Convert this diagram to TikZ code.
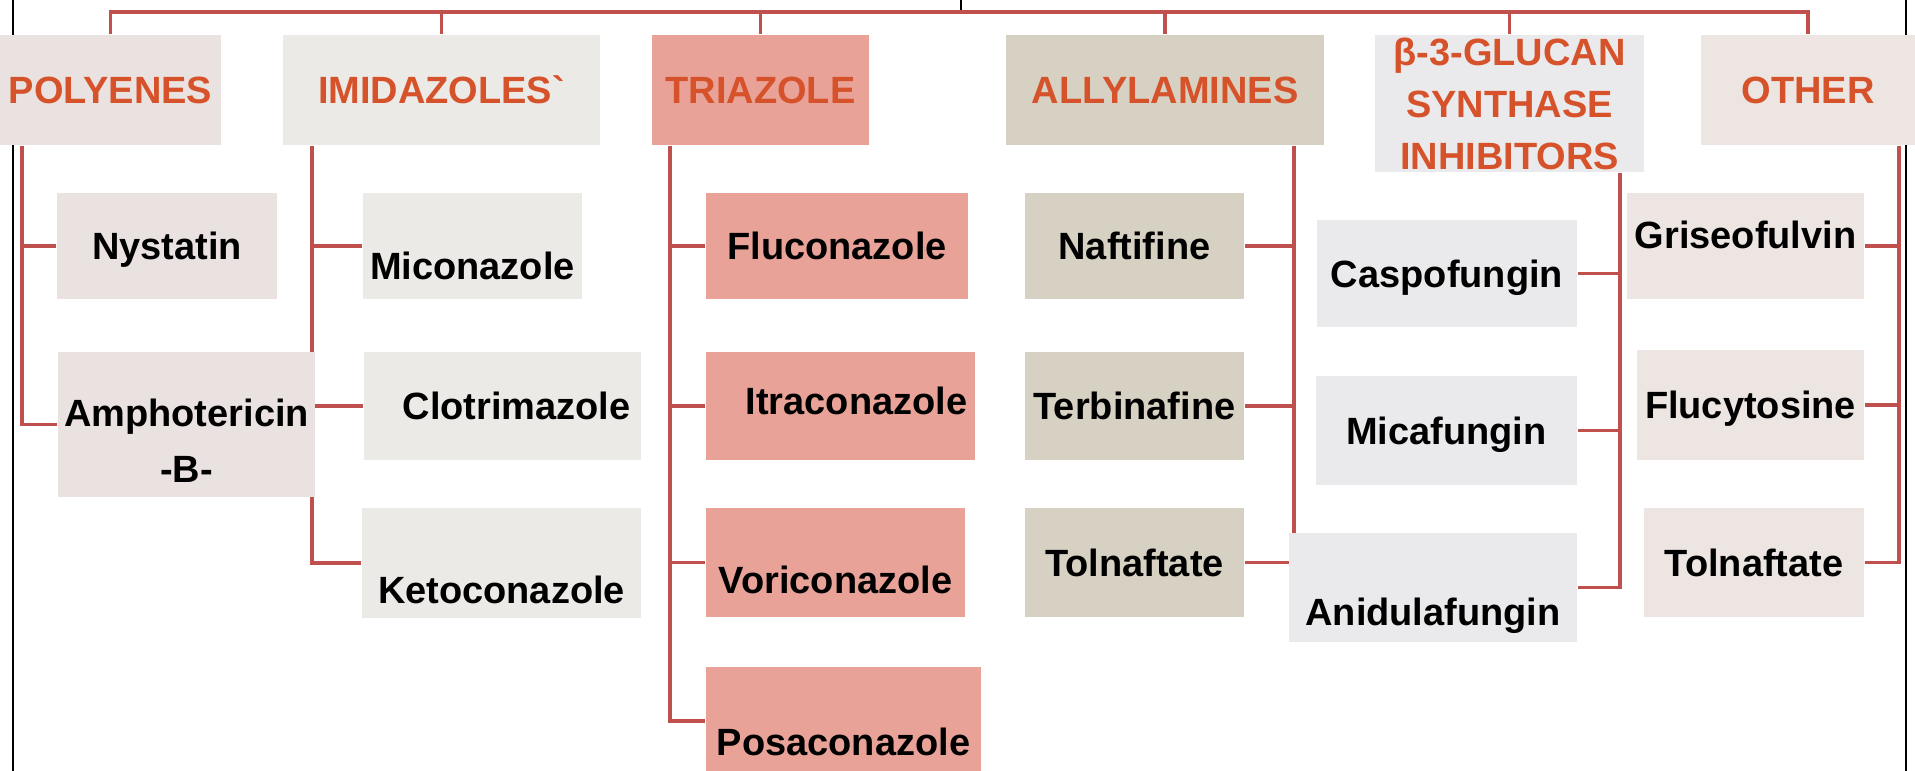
\documentclass[tikz,border=0pt]{standalone}
\usepackage{fontspec}
\setmainfont{Liberation Sans}
\usetikzlibrary{backgrounds}
\definecolor{linkred}{RGB}{192,80,77}
\definecolor{headred}{RGB}{214,82,42}
\definecolor{polyfill}{RGB}{233,226,224}
\definecolor{imidfill}{RGB}{236,234,230}
\definecolor{triafill}{RGB}{232,162,152}
\definecolor{allyfill}{RGB}{215,209,195}
\definecolor{glucfill}{RGB}{234,233,235}
\definecolor{othfill}{RGB}{237,229,226}
\tikzset{
  cell/.style={
    rectangle,
    inner sep=0.5pt,
    font=\fontsize{10.8}{14.8}\selectfont\bfseries
  },
  headtxt/.style={
    cell,
    text=headred
  },
  head/.style={
    headtxt,
    text height=7.7pt,
    text depth=0pt,
    minimum height=1.1cm
  },
  drug/.style={
    cell,
    text=black,
    text height=7.7pt,
    text depth=0pt
  },
  txtdown/.style={text height=#1},
  txtup/.style={text depth=#1},
  nudge/.style={execute at begin node={\hspace*{#1}}},
  link/.style={draw=linkred, line width=1pt},
  frame/.style={draw=black, line width=0.6pt}
}
\begin{document}
\begin{tikzpicture}[x=0.01cm, y=-0.01cm]
  \useasboundingbox (0,0) rectangle (1915,771);
  % class headers
  \node[head, fill=polyfill, minimum width=2.21cm] (pol) at (110.5,90) {POLYENES};
  \node[head, fill=imidfill, minimum width=3.17cm] (imi) at (441.5,90) {IMIDAZOLES\textasciigrave};
  \node[head, fill=triafill, minimum width=2.17cm] (tri) at (760.5,90) {TRIAZOLE};
  \node[head, fill=allyfill, minimum width=3.18cm] (all) at (1165,90) {ALLYLAMINES};
  \node[headtxt, fill=glucfill, align=center, minimum width=2.69cm, minimum height=1.37cm] (glu) at (1509.5,103.5) {β-3-GLUCAN\\SYNTHASE\\INHIBITORS};
  \node[head, fill=othfill, minimum width=2.14cm] (oth) at (1808,90) {OTHER};
  \coordinate (root) at (961,0);
  \coordinate (bus) at (961,12);

  % polyenes
  \node[drug, fill=polyfill, minimum width=2.20cm, minimum height=1.06cm] (nys) at (167,246) {Nystatin};
  \node[cell, fill=polyfill, align=center, minimum width=2.57cm, minimum height=1.45cm] (amp) at (186.5,424.5) {\rule{0pt}{17.3pt}Amphotericin\\[1.1pt]-B-};

  % imidazoles
  \node[drug, txtdown=19.1pt, fill=imidfill, minimum width=2.19cm, minimum height=1.06cm] (mic) at (472.5,246) {Miconazole};
  \node[drug, nudge=8pt, fill=imidfill, minimum width=2.77cm, minimum height=1.08cm] (clo) at (502.5,406) {Clotrimazole};
  \node[drug, txtdown=23.1pt, fill=imidfill, minimum width=2.79cm, minimum height=1.10cm] (ket) at (501.5,563) {Ketoconazole};

  % triazoles
  \node[drug, fill=triafill, minimum width=2.62cm, minimum height=1.06cm] (flu) at (837,246) {Fluconazole};
  \node[drug, nudge=9.1pt, txtup=2.6pt, fill=triafill, minimum width=2.69cm, minimum height=1.08cm] (itr) at (840.5,406) {Itraconazole};
  \node[drug, txtdown=17.9pt, fill=triafill, minimum width=2.59cm, minimum height=1.09cm] (vor) at (835.5,562.5) {Voriconazole};
  \node[drug, txtdown=19.4pt, fill=triafill, minimum width=2.75cm, minimum height=1.08cm] (pos) at (843.5,721) {Posaconazole};

  % allylamines
  \node[drug, fill=allyfill, minimum width=2.19cm, minimum height=1.06cm] (naf) at (1134.5,246) {Naftifine};
  \node[drug, fill=allyfill, minimum width=2.19cm, minimum height=1.08cm] (ter) at (1134.5,406) {Terbinafine};
  \node[drug, fill=allyfill, minimum width=2.19cm, minimum height=1.09cm] (tol) at (1134.5,562.5) {Tolnaftate};

  % glucan synthase inhibitors
  \node[drug, fill=glucfill, minimum width=2.60cm, minimum height=1.07cm] (cas) at (1447,273.5) {Caspofungin};
  \node[drug, fill=glucfill, minimum width=2.61cm, minimum height=1.09cm] (mcf) at (1446.5,430.5) {Micafungin};
  \node[drug, txtdown=21.9pt, fill=glucfill, minimum width=2.88cm, minimum height=1.09cm] (ani) at (1433,587.5) {Anidulafungin};

  % other
  \node[drug, txtup=6.3pt, fill=othfill, minimum width=2.37cm, minimum height=1.06cm] (gri) at (1745.5,246) {Griseofulvin};
  \node[drug, fill=othfill, minimum width=2.27cm, minimum height=1.10cm] (fly) at (1750.5,405) {Flucytosine};
  \node[drug, fill=othfill, minimum width=2.20cm, minimum height=1.09cm] (tl2) at (1754,562.5) {Tolnaftate};

  \begin{scope}[on background layer]
    \draw[frame] (13,0) -- (13,771);
    \draw[frame] (1906,0) -- (1906,771);
    \draw[frame] (root) -- (bus);
    \foreach \h in {pol,imi,tri,all,glu,oth}
      \draw[link] (\h.north) |- (bus);
    \foreach \d in {nys,amp}
      \draw[link] ([xshift=0.23cm]pol.south west) |- (\d.west);
    \foreach \d in {mic,clo,ket}
      \draw[link] ([xshift=0.30cm]imi.south west) |- (\d.west);
    \foreach \d in {flu,itr,vor,pos}
      \draw[link] ([xshift=0.19cm]tri.south west) |- (\d.west);
    \foreach \d in {naf,ter,tol}
      \draw[link] ([xshift=-0.31cm]all.south east) |- (\d.east);
    \foreach \d in {cas,mcf,ani}
      \draw[link] ([xshift=-0.25cm]glu.south east) |- (\d.east);
    \foreach \d in {gri,fly,tl2}
      \draw[link] ([xshift=-0.17cm]oth.south east) |- (\d.east);
  \end{scope}
\end{tikzpicture}
\end{document}
